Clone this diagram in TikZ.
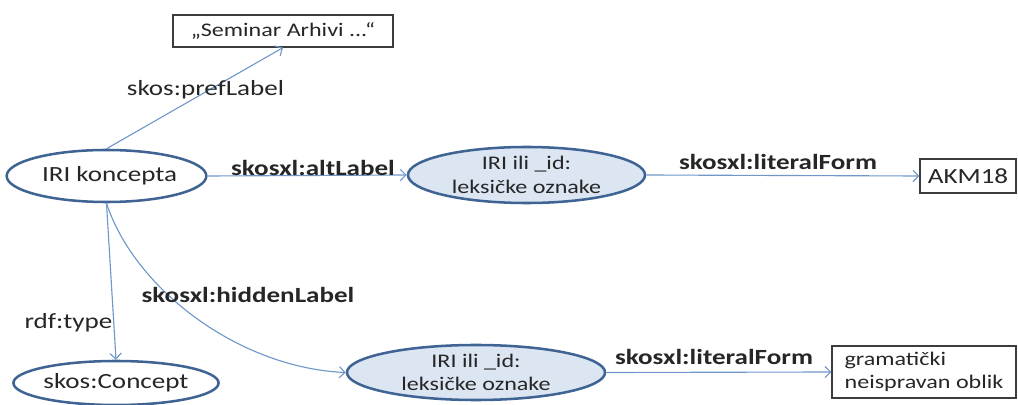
\documentclass[tikz,border=0pt]{standalone}
\usepackage{fontspec}
\setmainfont{Carlito}[FakeStretch=1.25]
\usetikzlibrary{shapes.geometric,arrows.meta}
\definecolor{rimblue}{HTML}{3F6494}
\definecolor{fillblue}{HTML}{DCE6F2}
\definecolor{arrowblue}{HTML}{6F97C9}
\definecolor{inkgray}{HTML}{262626}
\newcommand{\largetxt}{\fontsize{15.4}{18}\selectfont}
\newcommand{\smalltxt}{\fontsize{13.7}{16.8}\selectfont}
\begin{document}
\begin{tikzpicture}[x=0.025cm, y=0.025cm]
\tikzstyle{every node}+=[inner sep=0pt, text=inkgray, font=\largetxt]
\tikzstyle{resource}=[ellipse, draw=rimblue, line width=1.8pt, align=center]
\tikzstyle{literal}=[rectangle, draw=inkgray!90, line width=0.9pt, align=left]
\tikzstyle{link}=[draw=arrowblue, line width=0.8pt, -{Straight Barb[length=4pt,width=8pt]}]
\useasboundingbox (0,0) rectangle (1018,-405);
\draw (106.5,-176) node [resource, minimum width=4.925cm, minimum height=1.3cm] (koncept) {\ IRI koncepta};
\draw (283,-31) node [literal, font=\smalltxt, minimum width=5.5cm, minimum height=0.8cm] (seminar) {„Seminar Arhivi ...“};
\draw (526.5,-175) node [resource, font=\smalltxt, fill=fillblue, minimum width=5.925cm, minimum height=1.4cm] (alt) {IRI ili \_id:\\leksičke oznake};
\draw (968,-176) node [literal, minimum width=2.4cm, minimum height=0.85cm] (akm) {AKM18};
\draw (116,-383) node [resource, minimum width=4.45cm, minimum height=1.1cm] (concept) {skos:Concept};
\draw (476,-372.5) node [resource, font=\smalltxt, fill=fillblue, minimum width=6.45cm, minimum height=1.375cm] (hidden) {IRI ili \_id:\\leksičke oznake};
\draw (924,-372) node [literal, font=\smalltxt, minimum width=4.6cm, minimum height=1.3cm] (gram) {gramatički\\neispravan oblik};
\draw [link] (koncept.north) -- (seminar.south);
\draw (205.5,-90) node (preflbl) {skos:prefLabel};
\draw [link] (koncept.east) -- (alt.west);
\draw (313,-168) node (altlbl) {\bfseries skosxl:altLabel};
\draw [link] (alt.east) -- (akm.west);
\draw (778,-162) node (formlbl) {\bfseries skosxl:literalForm};
\draw [link] (koncept.south) -- (concept.north);
\draw (68.5,-322.5) node (typelbl) {rdf:type};
\draw [link] (koncept.south) .. controls (135,-290) and (240,-368) .. (hidden.west);
\draw (248,-295) node (hiddenlbl) {\bfseries skosxl:hiddenLabel};
\draw [link] (hidden.east) -- (gram.west);
\draw (714,-357) node (formlbl2) {\bfseries skosxl:literalForm};
\end{tikzpicture}
\end{document}
